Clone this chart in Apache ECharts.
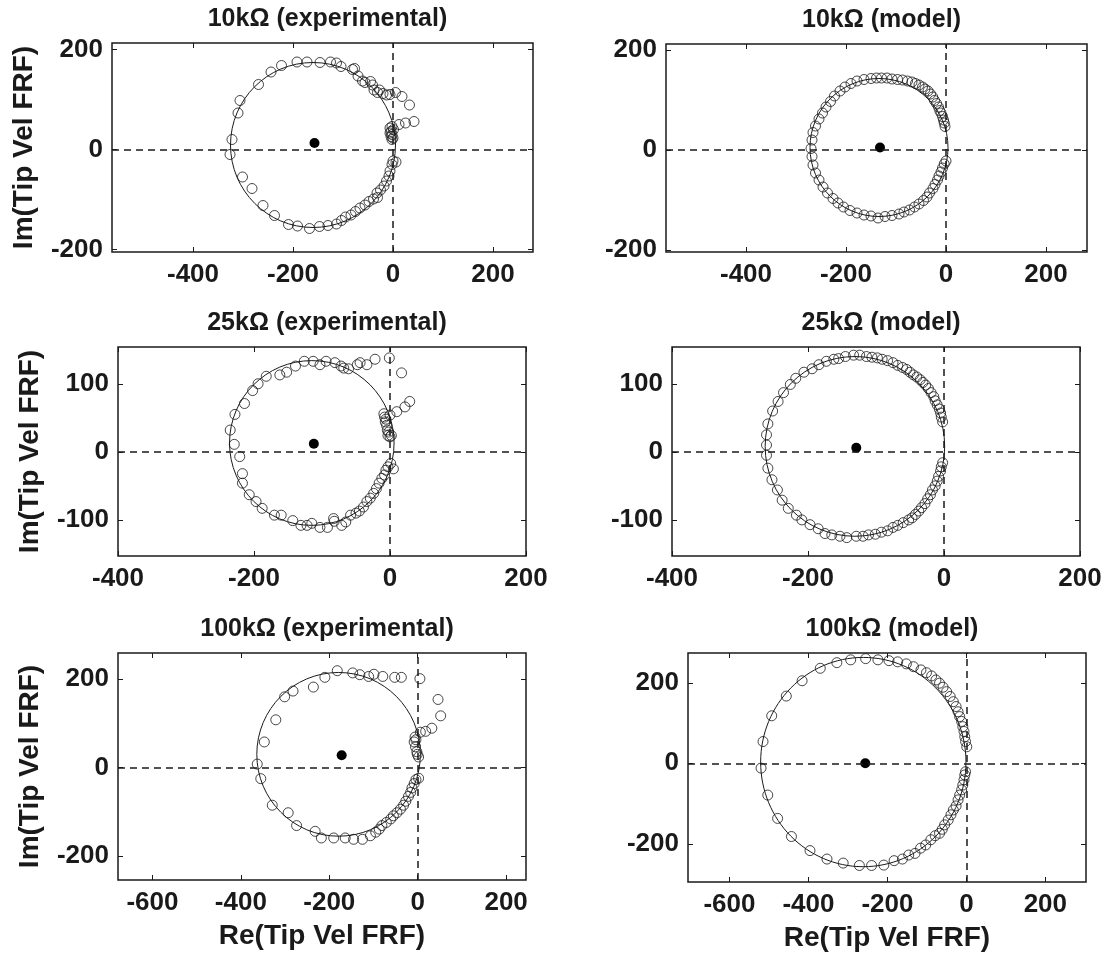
<!DOCTYPE html>
<html><head><meta charset="utf-8">
<script src="https://cdn.jsdelivr.net/npm/echarts@6/dist/echarts.min.js"></script>
<style>html,body{margin:0;padding:0;background:#fff}#c{width:1109px;height:958px}</style>
</head><body><div id="c"></div><script>
// ---------------- DATA ----------------
const titles = ['10kΩ (experimental)','10kΩ (model)','25kΩ (experimental)','25kΩ (model)','100kΩ (experimental)','100kΩ (model)'];
const xAxisTitle = 'Re(Tip Vel FRF)';
const yAxisTitle = 'Im(Tip Vel FRF)';

const xTicks10 = [-400,-200,0,200];
const yTicks10 = [-200,0,200];
const xTicks25 = [-400,-200,0,200];
const yTicks25 = [-100,0,100];
const xTicks100 = [-600,-400,-200,0,200];
const yTicks100 = [-200,0,200];

// measured points [Re, Im]
const exp10k = [[-326,-10],[-322,20],[-310,73],[-306,98],[-269,130],[-244,155],[-223,168],[-192,175],[-172,175],[-146,174],[-125,175],[-113,173],[-104,166],[-81,160],[-77,162],[-70,147],[-61,137],[-56,134],[-45,136],[-41,129],[-38,119],[-31,114],[-27,119],[-20,112],[-13,109],[-6,110],[5,114],[18,106],[33,89],[42,56],[25,53],[12,50],[-2,46],[-6,43],[-4,36],[-2,30],[-4,26],[0,23],[-6,33],[1,40],[-2,20],[0,-23],[6,-25],[-2,-30],[-6,-43],[-8,-53],[-13,-63],[-18,-73],[-25,-81],[-32,-87],[-31,-96],[-39,-99],[-48,-104],[-56,-111],[-66,-117],[-75,-124],[-84,-131],[-95,-135],[-103,-142],[-113,-149],[-130,-152],[-147,-154],[-167,-158],[-191,-153],[-209,-150],[-237,-132],[-260,-112],[-282,-78],[-301,-55]];
const model10k = [[-2,47],[-3.5,54],[-5,60],[-7,67],[-10,74],[-12.5,79],[-15,86],[-19,93],[-23,99],[-26.5,106],[-31,112],[-36,118],[-42,122],[-47,126],[-54,130],[-61,133],[-68,136],[-77,138],[-87,140],[-97,141],[-108,142],[-118,144],[-129,144],[-139,144],[-150,143],[-164,141],[-178,138],[-190,133],[-202,126],[-212,118],[-223,108],[-231,97],[-240,86],[-247,74],[-254,62],[-261,48],[-266,35],[-268,20],[-270,3],[-268,-13],[-266,-30],[-261,-46],[-254,-60],[-246,-74],[-237,-86],[-226,-97],[-216,-106],[-205,-114],[-192,-121],[-178,-126],[-164,-130],[-150,-132],[-136,-136],[-122,-133],[-108,-131],[-94,-128],[-84,-124],[-73,-120],[-63,-114],[-54,-108],[-45,-101],[-38,-94],[-33,-86],[-26,-77],[-22,-69],[-17,-60],[-14,-52],[-10,-44],[-7,-36],[-3.5,-28],[0,-22]];
const exp25k = [[-235,32],[-229,11],[-221,-7],[-217,-32],[-217,-46],[-207,-63],[-197,-73],[-188,-83],[-170,-93],[-160,-93],[-143,-101],[-131,-108],[-122,-108],[-115,-105],[-103,-111],[-92,-111],[-83,-98],[-82,-102],[-71,-108],[-65,-103],[-58,-93],[-50,-90],[-45,-87],[-39,-81],[-34,-73],[-29,-68],[-24,-61],[-20,-54],[-16,-46],[-12,-39],[-8,-34],[-6,-27],[-3,-22],[1,-17],[5,-25],[-228,55],[-214,71],[-202,90],[-194,100],[-182,111],[-162,113],[-152,117],[-139,126],[-126,133],[-113,133],[-103,128],[-94,133],[-81,131],[-72,126],[-68,123],[-61,122],[-48,128],[-44,131],[-34,128],[-22,136],[-1,138],[17,116],[29,74],[22,66],[10,59],[0,54],[-9,56],[-8,51],[-7,44],[-5,39],[-4,32],[-3,24],[0,22],[-6,48],[-2,29],[2,24]];
const model25k = [[-2,44],[-4,51],[-5,57],[-7,63],[-10,69],[-13,75],[-15,81],[-19,87],[-23,93],[-27,98],[-31,102],[-35,106],[-40,110],[-45,113],[-50,117],[-55,121],[-61,124],[-68,127],[-75,131],[-83,134],[-91,136],[-98,138],[-106,139],[-114,140],[-124,142],[-133,142],[-145,140],[-155,137],[-162,136],[-173,133],[-184,128],[-194,122],[-206,117],[-218,108],[-226,99],[-236,87],[-244,74],[-252,60],[-259,41],[-261,25],[-261,10],[-261,-5],[-259,-24],[-253,-41],[-245,-56],[-238,-71],[-229,-83],[-217,-93],[-209,-100],[-197,-107],[-185,-113],[-175,-120],[-165,-122],[-153,-124],[-143,-126],[-129,-124],[-119,-124],[-111,-122],[-101,-121],[-92,-118],[-83,-116],[-75,-111],[-68,-108],[-60,-104],[-52,-100],[-47,-97],[-42,-92],[-37,-87],[-33,-82],[-28,-76],[-24,-69],[-20,-63],[-17,-56],[-13,-50],[-10,-43],[-8,-36],[-5,-28],[-4,-22],[-2,-16]];
const exp100k = [[-363,8],[-355,-25],[-347,58],[-329,-85],[-321,108],[-293,-102],[-301,160],[-282,173],[-274,-131],[-236,182],[-232,-144],[-218,-159],[-210,204],[-190,-159],[-182,219],[-164,-159],[-147,214],[-145,-162],[-131,210],[-125,-162],[-111,206],[-107,-154],[-99,211],[-95,-146],[-87,-139],[-79,206],[-81,-131],[-71,-124],[-61,-116],[-55,-109],[-52,204],[-47,-102],[-39,-94],[-37,204],[-32,-85],[-27,-76],[-21,-65],[-16,-56],[-13,-46],[-8,-36],[-4,-27],[2,-24],[5,201],[46,154],[52,117],[32,89],[18,82],[6,80],[-6,69],[-8,58],[-5,47],[-2,36],[2,24],[-4,63],[-1,30]];
const model100k = [[1,41],[-2,54],[-4,66],[-6,79],[-9,91],[-12,104],[-17,116],[-21,128],[-26,141],[-33,153],[-41,166],[-50,178],[-59,189],[-68,199],[-77,207],[-88,217],[-101,225],[-115,232],[-134,240],[-152,247],[-174,252],[-196,255],[-224,257],[-255,260],[-293,257],[-328,250],[-370,236],[-416,205],[-456,167],[-493,118],[-515,54],[-520,-12],[-503,-79],[-478,-137],[-443,-182],[-396,-217],[-353,-238],[-312,-248],[-271,-254],[-240,-254],[-209,-253],[-183,-242],[-162,-238],[-146,-228],[-130,-224],[-116,-211],[-103,-203],[-90,-190],[-79,-180],[-68,-174],[-61,-164],[-55,-153],[-46,-141],[-39,-128],[-33,-116],[-26,-106],[-21,-91],[-17,-79],[-12,-66],[-9,-54],[-6,-41],[-4,-29],[-2,-21]];

// fitted circles [centre Re, centre Im, radius]
const fitCircles = [[-160,9,165],[-134,5,138],[-115,13,121],[-131,8,132],[-179,30,185],[-261,3,260]];
// filled centre markers [Re, Im]
const centreDots = [[-157,13],[-132,5],[-112,12],[-129,6],[-172,28],[-256,0]];

// ---------------- LAYOUT ----------------
const pointSets = [exp10k, model10k, exp25k, model25k, exp100k, model100k];
const xTickSets = [xTicks10, xTicks10, xTicks25, xTicks25, xTicks100, xTicks100];
const yTickSets = [yTicks10, yTicks10, yTicks25, yTicks25, yTicks100, yTicks100];
const layout = [
  {grid:{left:112,top:43,width:421,height:209}, x:[-562,280], y:[-205,213]},
  {grid:{left:666,top:44,width:421,height:208}, x:[-560,282], y:[-204,212]},
  {grid:{left:118,top:347,width:408,height:209}, x:[-400,200], y:[-153,154]},
  {grid:{left:672,top:347,width:408,height:209}, x:[-400,200], y:[-153,154]},
  {grid:{left:118,top:653,width:408,height:227}, x:[-678,245], y:[-254,259]},
  {grid:{left:688,top:653,width:398,height:229}, x:[-705,303], y:[-295,274]}
];
const FONT = '"Liberation Sans", Arial, Helvetica, sans-serif';
const INK = '#1a1a1a';

const grids = [], xAxes = [], yAxes = [], series = [], titleOpts = [];
layout.forEach((L, i) => {
  grids.push(Object.assign({show:true, borderColor:INK, borderWidth:1.5, backgroundColor:'transparent', containLabel:false}, L.grid));
  const cx = L.grid.left + L.grid.width/2;
  titleOpts.push({text: titles[i], left: cx, top: L.grid.top - 41, textAlign:'center',
    textStyle:{fontFamily:FONT, fontSize:25, fontWeight:'bold', color:INK}});
  const tickStyle = {show:true, inside:true, length:5, lineStyle:{color:INK, width:1}};
  const lab = {fontFamily:FONT, fontSize:26, fontWeight:'bold', color:INK};
  const noLine = {show:false, onZero:false};
  const isLeft = (i % 2 === 0), isBottom = (i >= 4);
  xAxes.push({gridIndex:i, type:'value', position:'bottom', min:L.x[0], max:L.x[1],
    axisLine:noLine, splitLine:{show:false},
    axisTick:Object.assign({customValues:xTickSets[i]}, tickStyle),
    axisLabel:Object.assign({customValues:xTickSets[i], margin:10}, lab),
    name: isBottom ? xAxisTitle : '', nameLocation:'middle', nameGap:42,
    nameTextStyle:{fontFamily:FONT, fontSize:28, fontWeight:'bold', color:INK}});
  xAxes.push({gridIndex:i, type:'value', position:'top', min:L.x[0], max:L.x[1],
    axisLine:noLine, splitLine:{show:false}, axisLabel:{show:false},
    axisTick:Object.assign({customValues:xTickSets[i]}, tickStyle)});
  yAxes.push({gridIndex:i, type:'value', position:'left', min:L.y[0], max:L.y[1],
    axisLine:noLine, splitLine:{show:false},
    axisTick:Object.assign({customValues:yTickSets[i]}, tickStyle),
    axisLabel:Object.assign({customValues:yTickSets[i], margin:9}, lab),
    name: isLeft ? yAxisTitle : '', nameLocation:'middle', nameGap:74, nameRotate:90,
    nameTextStyle:{fontFamily:FONT, fontSize:28, fontWeight:'bold', color:INK}});
  yAxes.push({gridIndex:i, type:'value', position:'right', min:L.y[0], max:L.y[1],
    axisLine:noLine, splitLine:{show:false}, axisLabel:{show:false},
    axisTick:Object.assign({customValues:yTickSets[i]}, tickStyle)});

  // fitted circle
  series.push({type:'custom', xAxisIndex:2*i, yAxisIndex:2*i, silent:true, clip:true,
    data:[fitCircles[i]], encode:{x:0, y:1},
    renderItem:(params, api) => {
      const c = api.coord([api.value(0), api.value(1)]);
      const s = api.size([api.value(2), api.value(2)]);
      return {type:'ellipse', shape:{cx:c[0], cy:c[1], rx:s[0], ry:s[1]},
        style:{fill:'none', stroke:INK, lineWidth:1}};
    }});
  // measured / model points + dashed zero lines
  series.push({type:'scatter', xAxisIndex:2*i, yAxisIndex:2*i, data:pointSets[i],
    symbol:'circle', symbolSize:10,
    itemStyle:{color:'rgba(0,0,0,0)', borderColor:INK, borderWidth:1},
    markLine:{silent:true, symbol:['none','none'], label:{show:false},
      lineStyle:{type:[7,5], color:INK, width:1.5},
      data:[{xAxis:0},{yAxis:0}]}});
  // centre dot
  series.push({type:'scatter', xAxisIndex:2*i, yAxisIndex:2*i, data:[centreDots[i]],
    symbol:'circle', symbolSize:10, itemStyle:{color:'#000', opacity:1}});
});

const chart = echarts.init(document.getElementById('c'), null, {renderer:'canvas'});
chart.setOption({animation:false, backgroundColor:'#fff', title:titleOpts,
  grid:grids, xAxis:xAxes, yAxis:yAxes, series:series});
</script></body></html>
